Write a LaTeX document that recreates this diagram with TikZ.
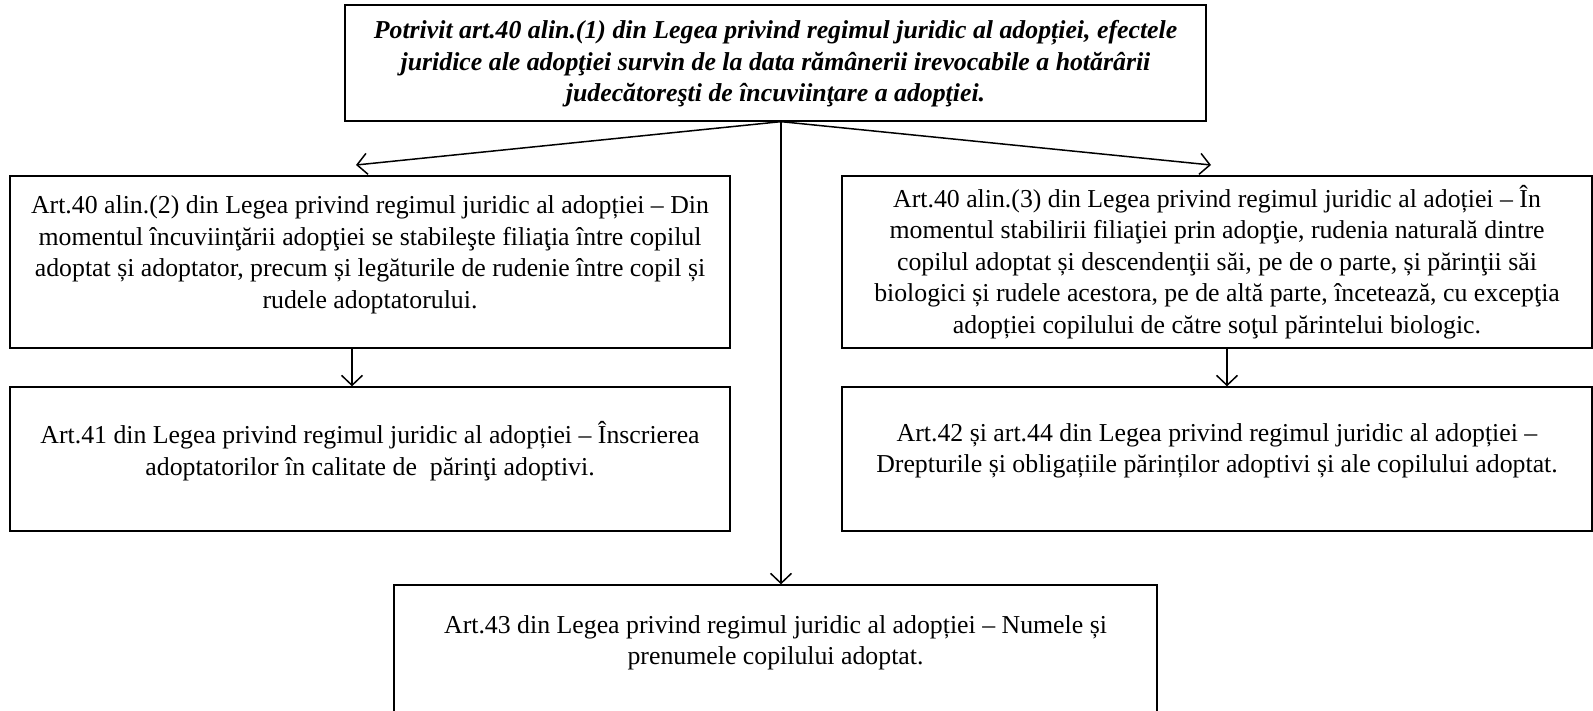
\documentclass[tikz,border=0pt]{standalone}
\usepackage{fontspec}
\setmainfont{Liberation Serif}
\usetikzlibrary{arrows.meta}
\begin{document}
\begin{tikzpicture}[x=1pt,y=-1pt,
  box/.style={draw=black, line width=1.3pt, inner sep=0pt, fill=none},
  txt/.style={align=center, inner sep=0pt, font=\fontsize{25.8}{31.5}\selectfont},
  ttxt/.style={align=center, inner sep=0pt, font=\fontsize{25.8}{31.5}\selectfont\bfseries\itshape},
  conn/.style={line width=1.5pt, -{Straight Barb[length=10pt,width=21pt,line width=1.5pt]}}]
\useasboundingbox (0,0) rectangle (1593,711);
% boxes
\node[box, minimum width=861pt, minimum height=116pt] (top) at (775.5,63) {};
\node[box, minimum width=720pt, minimum height=172pt] (b1) at (370,262) {};
\node[box, minimum width=750pt, minimum height=172pt] (b2) at (1217,262) {};
\node[box, minimum width=720pt, minimum height=144pt] (b3) at (370,459) {};
\node[box, minimum width=750pt, minimum height=144pt] (b4) at (1217,459) {};
\node[box, minimum width=763pt, minimum height=140pt] (b5) at (775.5,655) {};
% texts
\node[ttxt] (t0) at (775.5,64) {Potrivit art.40 alin.(1) din Legea privind regimul juridic al adopției, efectele\\juridice ale adopţiei survin de la data rămânerii irevocabile a hotărârii\\judecătoreşti de încuviinţare a adopţiei.};
\node[txt] (t1) at (370,255) {Art.40 alin.(2) din Legea privind regimul juridic al adopției – Din\\momentul încuviinţării adopţiei se stabileşte filiaţia între copilul\\adoptat și adoptator, precum și legăturile de rudenie între copil și\\rudele adoptatorului.};
\node[txt] (t2) at (1217,262) {Art.40 alin.(3) din Legea privind regimul juridic al adoției – În\\momentul stabilirii filiaţiei prin adopţie, rudenia naturală dintre\\copilul adoptat și descendenţii săi, pe de o parte, și părinţii săi\\biologici și rudele acestora, pe de altă parte, încetează, cu excepţia\\adopției copilului de către soţul părintelui biologic.};
\node[txt] (t3) at (370,451) {Art.41 din Legea privind regimul juridic al adopției – Înscrierea\\adoptatorilor în calitate de\ \ părinţi adoptivi.};
\node[txt] (t4) at (1217,451) {Art.42 și art.44 din Legea privind regimul juridic al adopției –\\Drepturile și obligațiile părinților adoptivi și ale copilului adoptat.};
\node[txt] (t5) at (775.5,643) {Art.43 din Legea privind regimul juridic al adopției – Numele și\\prenumele copilului adoptat.};
% connectors
\coordinate (src) at ([xshift=5.5pt]top.south);
\coordinate (lt) at (356,165);
\coordinate (rt) at (1211,165);
\draw[conn] (src) -- (lt);
\draw[conn] (src) -- (rt);
\draw[conn] (src) -- (src |- b5.north);
\draw[conn] ([xshift=-18pt]b1.south) -- ([xshift=-18pt]b3.north);
\draw[conn] ([xshift=10pt]b2.south) -- ([xshift=10pt]b4.north);
\end{tikzpicture}
\end{document}
